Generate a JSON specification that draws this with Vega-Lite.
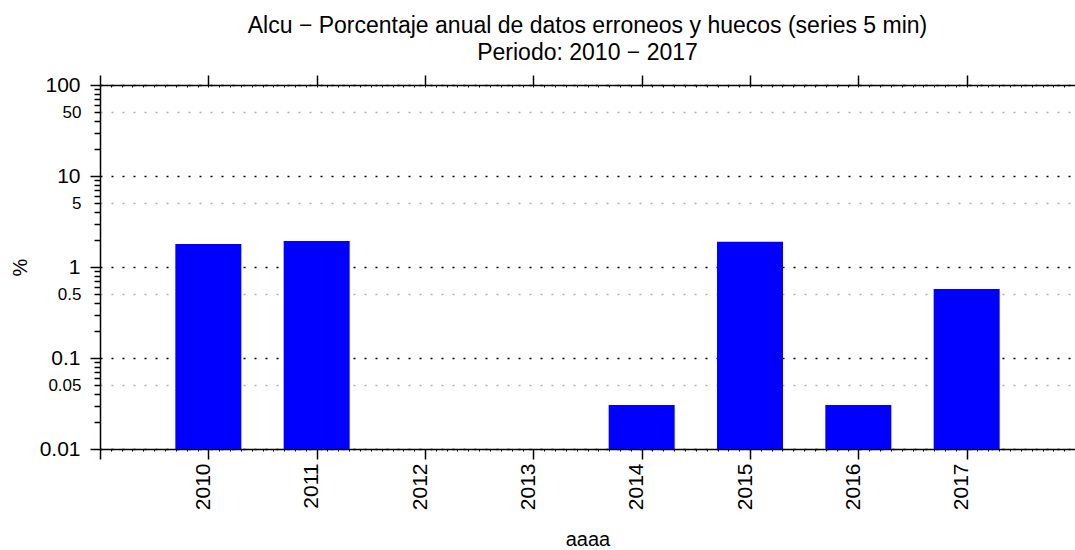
{
  "$schema": "https://vega.github.io/schema/vega-lite/v6.json",
  "width": 975,
  "height": 364,
  "autosize": {"type": "none"},
  "padding": {"left": 100, "top": 85, "right": 0, "bottom": 101},
  "background": "white",
  "config": {
    "view": {"stroke": null},
    "font": "Liberation Sans",
    "axis": {"labelFont": "Liberation Sans", "titleFont": "Liberation Sans", "labelColor": "black", "titleColor": "black", "tickColor": "black", "domainColor": "black", "titleFontWeight": "normal"}
  },
  "title": {
    "text": ["Alcu − Porcentaje anual de datos erroneos y huecos (series 5 min)", "Periodo: 2010 − 2017"],
    "fontSize": 23,
    "fontWeight": "normal",
    "font": "Liberation Sans",
    "color": "black",
    "anchor": "middle",
    "lineHeight": 27,
    "offset": 9
  },
  "data": {
    "values": [
      {"year": 2010, "value": 1.79},
      {"year": 2011, "value": 1.93},
      {"year": 2014, "value": 0.0304},
      {"year": 2015, "value": 1.9},
      {"year": 2016, "value": 0.0304},
      {"year": 2017, "value": 0.573}
    ]
  },
  "layer": [
    {
      "mark": {"type": "bar", "size": 66, "color": "#0000ff"},
      "encoding": {
        "x": {
          "field": "year", "type": "quantitative",
          "scale": {"domain": [2009, 2018], "nice": false, "zero": false, "padding": 0},
          "axis": {
            "orient": "bottom",
            "values": [2009, 2010, 2011, 2012, 2013, 2014, 2015, 2016, 2017],
            "labelExpr": "datum.value == 2009 ? '' : format(datum.value, 'd')",
            "labelAngle": -90,
            "labelFontSize": 21,
            "labelPadding": 4,
            "labelOffset": -5,
            "tickSize": 10,
            "tickWidth": 1.5,
            "domainWidth": 1.5,
            "grid": false,
            "title": "aaaa",
            "titleFontSize": 20,
            "titleY": 96,
            "titleBaseline": "alphabetic"
          }
        },
        "y": {
          "field": "value", "type": "quantitative",
          "scale": {"type": "log", "domain": [0.01, 100], "nice": false},
          "axis": {
            "orient": "left",
            "values": [100, 10, 1, 0.1, 0.01],
            "labelExpr": "'' + datum.value",
            "labelFontSize": 21,
            "labelPadding": 10,
            "tickSize": 10,
            "tickWidth": 1.5,
            "domainWidth": 1.5,
            "grid": true,
            "gridColor": "black",
            "gridDash": [2, 9],
            "gridWidth": 1.5,
            "title": "%",
            "titleFontSize": 20,
            "titleAngle": -90,
            "titleX": -80,
            "titleY": 182,
            "titleBaseline": "middle"
          }
        },
        "y2": {"datum": 0.01}
      }
    },
    {
      "mark": {"type": "point", "opacity": 0},
      "encoding": {
        "y": {
          "field": "value", "type": "quantitative",
          "scale": {"type": "log", "domain": [0.01, 100], "nice": false},
          "axis": {
            "orient": "left",
            "values": [50, 5, 0.5, 0.05],
            "labelExpr": "'' + datum.value",
            "labelFontSize": 17,
            "labelPadding": 13,
            "tickSize": 6,
            "tickWidth": 1.5,
            "domain": false,
            "grid": true,
            "gridColor": "#b0b0b0",
            "gridDash": [2, 9],
            "gridWidth": 1.5,
            "title": null
          }
        }
      }
    },
    {
      "mark": {"type": "point", "opacity": 0},
      "encoding": {
        "y": {
          "field": "value", "type": "quantitative",
          "scale": {"type": "log", "domain": [0.01, 100], "nice": false},
          "axis": {
            "orient": "left",
            "values": [90, 80, 70, 60, 40, 30, 20, 9, 8, 7, 6, 4, 3, 2, 0.9, 0.8, 0.7, 0.6, 0.4, 0.3, 0.2, 0.09, 0.08, 0.07, 0.06, 0.04, 0.03, 0.02],
            "labels": false,
            "tickSize": 6,
            "tickWidth": 1.5,
            "domain": false,
            "grid": false,
            "title": null
          }
        }
      }
    },
    {
      "mark": {"type": "point", "opacity": 0},
      "encoding": {
        "x": {
          "field": "year", "type": "quantitative",
          "scale": {"domain": [2009, 2018], "nice": false, "zero": false, "padding": 0},
          "axis": {
            "orient": "top",
            "values": [2009, 2010, 2011, 2012, 2013, 2014, 2015, 2016, 2017],
            "labels": false,
            "tickSize": 10,
            "tickWidth": 1.5,
            "domainWidth": 1.5,
            "grid": false,
            "title": null
          }
        }
      }
    },
    {
      "mark": {"type": "point", "opacity": 0},
      "encoding": {
        "x": {
          "field": "year", "type": "quantitative",
          "scale": {"domain": [2009, 2018], "nice": false, "zero": false, "padding": 0},
          "axis": {
            "orient": "top",
            "tickCount": 90,
            "labels": false,
            "tickSize": -2,
            "domain": false,
            "grid": false,
            "title": null
          }
        }
      }
    },
    {
      "mark": {"type": "point", "opacity": 0},
      "encoding": {
        "x": {
          "field": "year", "type": "quantitative",
          "scale": {"domain": [2009, 2018], "nice": false, "zero": false, "padding": 0},
          "axis": {
            "orient": "bottom",
            "tickCount": 90,
            "labels": false,
            "tickSize": 2,
            "domain": false,
            "grid": false,
            "title": null
          }
        }
      }
    }
  ],
  "resolve": {"axis": {"x": "independent", "y": "independent"}}
}
